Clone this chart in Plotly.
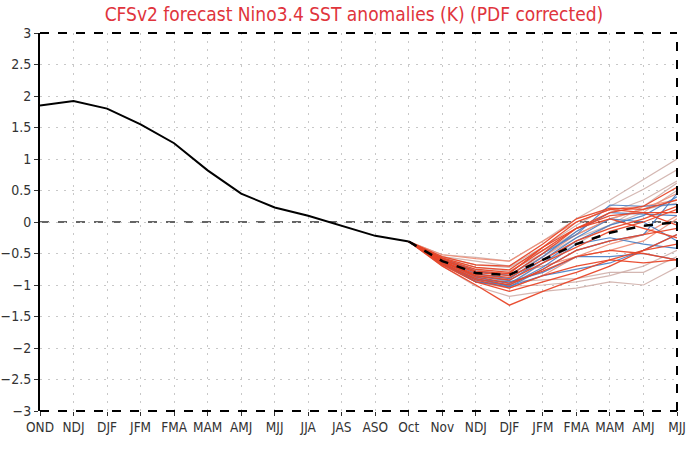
import plotly.graph_objects as go

# ---- data ----
tick_labels = ["OND", "NDJ", "DJF", "JFM", "FMA", "MAM", "AMJ", "MJJ", "JJA", "JAS",
               "ASO", "Oct", "Nov", "NDJ", "DJF", "JFM", "FMA", "MAM", "AMJ", "MJJ"]
observed = [1.85, 1.92, 1.80, 1.55, 1.25, 0.82, 0.45, 0.23, 0.10, -0.06, -0.22, -0.31]
ens_mean = [-0.31, -0.62, -0.81, -0.84, -0.60, -0.35, -0.17, -0.06, 0.00]
start_val = -0.31

members_faint = [
    [-0.52, -0.56, -0.62, -0.30, 0.05, 0.35, 0.68, 1.00],
    [-0.55, -0.62, -0.70, -0.40, -0.05, 0.25, 0.52, 0.83],
    [-0.70, -1.02, -1.18, -1.10, -1.05, -0.95, -1.00, -0.72],
    [-0.62, -0.85, -0.95, -0.92, -0.90, -0.80, -0.80, -0.55],
    [-0.66, -0.93, -1.00, -0.65, -0.35, -0.05, 0.25, 0.62],
    [-0.56, -0.68, -0.72, -0.45, -0.20, 0.05, 0.20, 0.30],
    [-0.64, -0.90, -1.02, -1.00, -0.95, -0.85, -0.70, -0.45],
    [-0.60, -0.76, -0.84, -0.55, -0.25, -0.05, 0.15, 0.50],
    [-0.58, -0.72, -0.78, -0.50, -0.15, 0.15, 0.35, 0.65],
]
members_salmon = [
    [-0.52, -0.58, -0.62, -0.30, 0.00, 0.20, 0.25, 0.35],
    [-0.62, -0.85, -0.90, -0.55, -0.20, 0.05, 0.20, 0.45],
    [-0.66, -0.95, -1.05, -0.85, -0.55, -0.35, -0.20, 0.10],
    [-0.60, -0.80, -0.82, -0.70, -0.55, -0.45, -0.30, 0.05],
]
members_blue = [
    [-0.63, -0.88, -0.98, -0.65, -0.30, -0.05, 0.10, 0.40],
    [-0.67, -0.95, -1.00, -0.72, -0.35, -0.25, -0.35, -0.42],
    [-0.60, -0.82, -0.90, -0.55, -0.15, 0.15, 0.12, 0.10],
    [-0.65, -0.92, -0.95, -0.80, -0.55, -0.55, -0.50, -0.60],
    [-0.62, -0.86, -0.93, -0.60, -0.25, 0.05, 0.00, -0.30],
    [-0.58, -0.78, -0.85, -0.50, -0.20, 0.27, 0.25, 0.28],
    [-0.66, -0.90, -1.02, -0.85, -0.75, -0.65, -0.45, -0.20],
    [-0.64, -0.95, -1.03, -0.75, -0.45, -0.30, -0.20, 0.45],
]
members_red = [
    [-0.55, -0.68, -0.70, -0.35, 0.05, 0.22, 0.20, 0.35],
    [-0.60, -0.80, -0.85, -0.50, -0.10, 0.15, 0.25, 0.55],
    [-0.65, -0.90, -1.00, -0.75, -0.45, -0.30, -0.20, -0.10],
    [-0.70, -1.00, -1.32, -1.10, -0.90, -0.70, -0.45, -0.35],
    [-0.62, -0.85, -0.92, -0.65, -0.40, -0.15, 0.00, 0.20],
    [-0.58, -0.75, -0.80, -0.45, -0.10, 0.05, -0.10, -0.25],
    [-0.66, -0.92, -1.05, -0.85, -0.70, -0.60, -0.65, -0.60],
    [-0.60, -0.78, -0.82, -0.40, 0.00, 0.20, 0.15, -0.05],
    [-0.63, -0.87, -0.97, -0.78, -0.55, -0.45, -0.50, -0.60],
    [-0.57, -0.72, -0.76, -0.40, -0.10, 0.10, 0.15, 0.15],
    [-0.68, -0.95, -1.10, -0.95, -0.80, -0.60, -0.45, -0.20],
    [-0.62, -0.83, -0.88, -0.60, -0.30, -0.10, 0.05, 0.25],
]
y_ticks = [-3, -2.5, -2, -1.5, -1, -0.5, 0, 0.5, 1, 1.5, 2, 2.5, 3]

# ---- figure ----
n_obs = len(observed)
x_all = list(range(len(tick_labels)))
x_obs = x_all[:n_obs]
x_fc = x_all[n_obs - 1:]

fig = go.Figure()

def add_members(members, color, width):
    for m in members:
        fig.add_trace(go.Scatter(x=x_fc, y=[start_val] + m, mode="lines",
                                 line=dict(color=color, width=width),
                                 showlegend=False, hoverinfo="skip"))

add_members(members_faint, "rgba(205,170,165,0.85)", 1.2)
add_members(members_salmon, "rgba(240,140,115,0.9)", 1.2)
add_members(members_blue, "rgba(70,125,195,0.9)", 1.2)
add_members(members_red, "rgba(232,70,40,0.95)", 1.3)

fig.add_trace(go.Scatter(x=x_fc, y=ens_mean, mode="lines",
                         line=dict(color="black", width=2.5, dash="dash"),
                         showlegend=False))
fig.add_trace(go.Scatter(x=x_obs, y=observed, mode="lines",
                         line=dict(color="black", width=2),
                         showlegend=False))

font_family = "DejaVu Sans Condensed, Liberation Sans Narrow, sans-serif"
tick_font = dict(family=font_family, size=13.5, color="#333333")
grid_dash = "2px,6px"

fig.update_layout(
    width=700, height=450,
    margin=dict(l=40, r=23, t=33, b=39),
    paper_bgcolor="white", plot_bgcolor="white",
    title=dict(text="CFSv2 forecast Nino3.4 SST anomalies (K) (PDF corrected)",
               x=345 / 700, xref="paper", xanchor="center",
               y=1 - 14 / 450, yanchor="middle",
               font=dict(family=font_family, size=19, color="#e0343c")),
    xaxis=dict(range=[0, len(tick_labels) - 1], tickvals=x_all, ticktext=tick_labels,
               showgrid=True, gridcolor="#c8c8c8", griddash=grid_dash, gridwidth=1,
               zeroline=False, showline=False, automargin=False,
               ticks="outside", ticklen=4, tickcolor="#333333",
               tickfont=tick_font),
    yaxis=dict(range=[-3, 3], tickvals=y_ticks,
               ticktext=[("\u2212" + f"{abs(v):g}") if v < 0 else f"{v:g}" for v in y_ticks],
               showgrid=True, gridcolor="#c8c8c8", griddash=grid_dash, gridwidth=1,
               zeroline=False, showline=True, linecolor="black", linewidth=2,
               automargin=False,
               ticks="outside", ticklen=4, tickcolor="#333333",
               tickfont=dict(tick_font, size=14)),
)

# frame: dashed top, right, bottom; dashed zero line
for (x0, y0, x1, y1) in [(0, 1, 1, 1), (1, 0, 1, 1), (0, 0, 1, 0)]:
    fig.add_shape(type="line", xref="paper", yref="paper", x0=x0, y0=y0, x1=x1, y1=y1,
                  line=dict(color="black", width=2, dash="dash"), layer="above")
fig.add_shape(type="line", xref="paper", yref="y", x0=0, x1=1, y0=0, y1=0,
              line=dict(color="#333333", width=1.5, dash="dash"), layer="below")

fig.write_html("out.html")
